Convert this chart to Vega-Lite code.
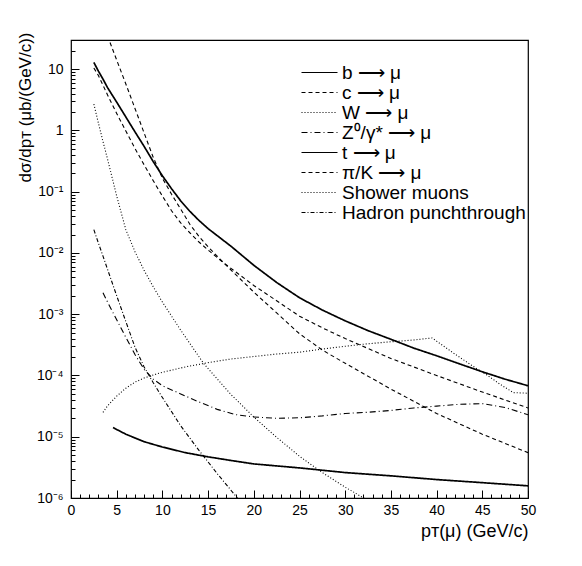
{
  "$schema": "https://vega.github.io/schema/vega-lite/v6.json",
  "autosize": {"type": "none"},
  "padding": {"left": 71, "top": 40, "right": 54, "bottom": 68},
  "width": 457,
  "height": 458,
  "background": "white",
  "config": {
    "font": "Liberation Sans",
    "view": {"stroke": "black", "strokeWidth": 1.2},
    "axis": {"domain": false, "ticks": false, "grid": true, "gridColor": "black", "gridWidth": 1, "gridOpacity": 1, "labelFont": "Liberation Sans", "titleFont": "Liberation Sans", "labelColor": "black", "titleColor": "black", "titleFontWeight": "normal"}
  },
  "data": {"values": [
    {"s": "b ⟶ μ", "x": 2.5, "y": 12.9}, {"s": "b ⟶ μ", "x": 3, "y": 9.3}, {"s": "b ⟶ μ", "x": 3.5, "y": 6.9}, {"s": "b ⟶ μ", "x": 4, "y": 5.0}, {"s": "b ⟶ μ", "x": 5, "y": 2.9}, {"s": "b ⟶ μ", "x": 6, "y": 1.66}, {"s": "b ⟶ μ", "x": 7, "y": 0.95}, {"s": "b ⟶ μ", "x": 8, "y": 0.55}, {"s": "b ⟶ μ", "x": 9, "y": 0.31}, {"s": "b ⟶ μ", "x": 10, "y": 0.182}, {"s": "b ⟶ μ", "x": 11, "y": 0.112}, {"s": "b ⟶ μ", "x": 12, "y": 0.071}, {"s": "b ⟶ μ", "x": 13, "y": 0.048}, {"s": "b ⟶ μ", "x": 14, "y": 0.034}, {"s": "b ⟶ μ", "x": 15, "y": 0.025}, {"s": "b ⟶ μ", "x": 17.5, "y": 0.0129}, {"s": "b ⟶ μ", "x": 20, "y": 0.0063}, {"s": "b ⟶ μ", "x": 22.5, "y": 0.0033}, {"s": "b ⟶ μ", "x": 25, "y": 0.00186}, {"s": "b ⟶ μ", "x": 27.5, "y": 0.00117}, {"s": "b ⟶ μ", "x": 30, "y": 0.00078}, {"s": "b ⟶ μ", "x": 32.5, "y": 0.00054}, {"s": "b ⟶ μ", "x": 35, "y": 0.00039}, {"s": "b ⟶ μ", "x": 37.5, "y": 0.00028}, {"s": "b ⟶ μ", "x": 40, "y": 0.00021}, {"s": "b ⟶ μ", "x": 42.5, "y": 0.000155}, {"s": "b ⟶ μ", "x": 45, "y": 0.000115}, {"s": "b ⟶ μ", "x": 47.5, "y": 0.000087}, {"s": "b ⟶ μ", "x": 50, "y": 0.000068},

    {"s": "c ⟶ μ", "x": 2.5, "y": 10.5}, {"s": "c ⟶ μ", "x": 3, "y": 7.9}, {"s": "c ⟶ μ", "x": 4, "y": 3.8}, {"s": "c ⟶ μ", "x": 5, "y": 1.9}, {"s": "c ⟶ μ", "x": 6, "y": 0.98}, {"s": "c ⟶ μ", "x": 7, "y": 0.51}, {"s": "c ⟶ μ", "x": 8, "y": 0.275}, {"s": "c ⟶ μ", "x": 9, "y": 0.151}, {"s": "c ⟶ μ", "x": 10, "y": 0.085}, {"s": "c ⟶ μ", "x": 11, "y": 0.049}, {"s": "c ⟶ μ", "x": 12, "y": 0.031}, {"s": "c ⟶ μ", "x": 13, "y": 0.0214}, {"s": "c ⟶ μ", "x": 14, "y": 0.0151}, {"s": "c ⟶ μ", "x": 15, "y": 0.0112}, {"s": "c ⟶ μ", "x": 16.7, "y": 0.0069}, {"s": "c ⟶ μ", "x": 20, "y": 0.00295}, {"s": "c ⟶ μ", "x": 22.5, "y": 0.00166}, {"s": "c ⟶ μ", "x": 25, "y": 0.00093}, {"s": "c ⟶ μ", "x": 27.5, "y": 0.0006}, {"s": "c ⟶ μ", "x": 30, "y": 0.0004}, {"s": "c ⟶ μ", "x": 35, "y": 0.00019}, {"s": "c ⟶ μ", "x": 40, "y": 0.0001}, {"s": "c ⟶ μ", "x": 45, "y": 0.0000537}, {"s": "c ⟶ μ", "x": 50, "y": 0.0000295},

    {"s": "W ⟶ μ", "x": 3.5, "y": 0.000025}, {"s": "W ⟶ μ", "x": 4, "y": 0.000032}, {"s": "W ⟶ μ", "x": 5, "y": 0.000046}, {"s": "W ⟶ μ", "x": 6, "y": 0.000062}, {"s": "W ⟶ μ", "x": 7, "y": 0.000078}, {"s": "W ⟶ μ", "x": 8, "y": 0.000091}, {"s": "W ⟶ μ", "x": 9.7, "y": 0.00011}, {"s": "W ⟶ μ", "x": 12.5, "y": 0.000138}, {"s": "W ⟶ μ", "x": 15, "y": 0.000162}, {"s": "W ⟶ μ", "x": 17.5, "y": 0.000186}, {"s": "W ⟶ μ", "x": 20, "y": 0.000204}, {"s": "W ⟶ μ", "x": 22.5, "y": 0.000224}, {"s": "W ⟶ μ", "x": 25, "y": 0.00024}, {"s": "W ⟶ μ", "x": 27.5, "y": 0.00027}, {"s": "W ⟶ μ", "x": 30, "y": 0.0003}, {"s": "W ⟶ μ", "x": 32.5, "y": 0.00033}, {"s": "W ⟶ μ", "x": 35, "y": 0.000355}, {"s": "W ⟶ μ", "x": 37.5, "y": 0.00038}, {"s": "W ⟶ μ", "x": 39.5, "y": 0.00041}, {"s": "W ⟶ μ", "x": 42, "y": 0.000224}, {"s": "W ⟶ μ", "x": 44, "y": 0.000141}, {"s": "W ⟶ μ", "x": 45.5, "y": 0.000102}, {"s": "W ⟶ μ", "x": 47, "y": 0.000071}, {"s": "W ⟶ μ", "x": 48.4, "y": 0.0000525}, {"s": "W ⟶ μ", "x": 50, "y": 0.0000513},

    {"s": "Z⁰/γ* ⟶ μ", "x": 3.5, "y": 0.00224}, {"s": "Z⁰/γ* ⟶ μ", "x": 4, "y": 0.00158}, {"s": "Z⁰/γ* ⟶ μ", "x": 5, "y": 0.00081}, {"s": "Z⁰/γ* ⟶ μ", "x": 6, "y": 0.00042}, {"s": "Z⁰/γ* ⟶ μ", "x": 7, "y": 0.00022}, {"s": "Z⁰/γ* ⟶ μ", "x": 8, "y": 0.000126}, {"s": "Z⁰/γ* ⟶ μ", "x": 9, "y": 0.000087}, {"s": "Z⁰/γ* ⟶ μ", "x": 10, "y": 0.000068}, {"s": "Z⁰/γ* ⟶ μ", "x": 12, "y": 0.00005}, {"s": "Z⁰/γ* ⟶ μ", "x": 14, "y": 0.000037}, {"s": "Z⁰/γ* ⟶ μ", "x": 16, "y": 0.000028}, {"s": "Z⁰/γ* ⟶ μ", "x": 18, "y": 0.000023}, {"s": "Z⁰/γ* ⟶ μ", "x": 20, "y": 0.000021}, {"s": "Z⁰/γ* ⟶ μ", "x": 22.5, "y": 0.00002}, {"s": "Z⁰/γ* ⟶ μ", "x": 25, "y": 0.0000204}, {"s": "Z⁰/γ* ⟶ μ", "x": 27.5, "y": 0.0000219}, {"s": "Z⁰/γ* ⟶ μ", "x": 30, "y": 0.000024}, {"s": "Z⁰/γ* ⟶ μ", "x": 32.5, "y": 0.0000251}, {"s": "Z⁰/γ* ⟶ μ", "x": 35, "y": 0.0000269}, {"s": "Z⁰/γ* ⟶ μ", "x": 37.5, "y": 0.0000295}, {"s": "Z⁰/γ* ⟶ μ", "x": 40, "y": 0.0000316}, {"s": "Z⁰/γ* ⟶ μ", "x": 42.5, "y": 0.0000339}, {"s": "Z⁰/γ* ⟶ μ", "x": 45, "y": 0.0000347}, {"s": "Z⁰/γ* ⟶ μ", "x": 47.5, "y": 0.00003}, {"s": "Z⁰/γ* ⟶ μ", "x": 50, "y": 0.0000229},

    {"s": "t ⟶ μ", "x": 4.6, "y": 0.0000141}, {"s": "t ⟶ μ", "x": 6, "y": 0.000011}, {"s": "t ⟶ μ", "x": 8, "y": 0.0000083}, {"s": "t ⟶ μ", "x": 10, "y": 0.0000068}, {"s": "t ⟶ μ", "x": 12.5, "y": 0.0000055}, {"s": "t ⟶ μ", "x": 15, "y": 0.0000047}, {"s": "t ⟶ μ", "x": 17.5, "y": 0.0000041}, {"s": "t ⟶ μ", "x": 20, "y": 0.0000036}, {"s": "t ⟶ μ", "x": 25, "y": 0.0000031}, {"s": "t ⟶ μ", "x": 30, "y": 0.0000026}, {"s": "t ⟶ μ", "x": 35, "y": 0.0000023}, {"s": "t ⟶ μ", "x": 40, "y": 0.000002}, {"s": "t ⟶ μ", "x": 45, "y": 0.00000178}, {"s": "t ⟶ μ", "x": 50, "y": 0.00000158},

    {"s": "π/K ⟶ μ", "x": 4, "y": 35}, {"s": "π/K ⟶ μ", "x": 5, "y": 14.1}, {"s": "π/K ⟶ μ", "x": 6, "y": 5.75}, {"s": "π/K ⟶ μ", "x": 7, "y": 2.29}, {"s": "π/K ⟶ μ", "x": 8, "y": 0.91}, {"s": "π/K ⟶ μ", "x": 9, "y": 0.363}, {"s": "π/K ⟶ μ", "x": 10, "y": 0.166}, {"s": "π/K ⟶ μ", "x": 11, "y": 0.091}, {"s": "π/K ⟶ μ", "x": 12, "y": 0.052}, {"s": "π/K ⟶ μ", "x": 13, "y": 0.0295}, {"s": "π/K ⟶ μ", "x": 14, "y": 0.0186}, {"s": "π/K ⟶ μ", "x": 15, "y": 0.0126}, {"s": "π/K ⟶ μ", "x": 16.7, "y": 0.0069}, {"s": "π/K ⟶ μ", "x": 20, "y": 0.0023}, {"s": "π/K ⟶ μ", "x": 22.5, "y": 0.00105}, {"s": "π/K ⟶ μ", "x": 25, "y": 0.00048}, {"s": "π/K ⟶ μ", "x": 27.5, "y": 0.00026}, {"s": "π/K ⟶ μ", "x": 30, "y": 0.000158}, {"s": "π/K ⟶ μ", "x": 35, "y": 0.00006}, {"s": "π/K ⟶ μ", "x": 40, "y": 0.000024}, {"s": "π/K ⟶ μ", "x": 45, "y": 0.000011}, {"s": "π/K ⟶ μ", "x": 50, "y": 0.0000055},

    {"s": "Shower muons", "x": 2.5, "y": 2.7}, {"s": "Shower muons", "x": 3, "y": 1.32}, {"s": "Shower muons", "x": 3.5, "y": 0.66}, {"s": "Shower muons", "x": 4, "y": 0.34}, {"s": "Shower muons", "x": 5, "y": 0.085}, {"s": "Shower muons", "x": 6, "y": 0.024}, {"s": "Shower muons", "x": 7, "y": 0.0105}, {"s": "Shower muons", "x": 8, "y": 0.0052}, {"s": "Shower muons", "x": 9, "y": 0.0028}, {"s": "Shower muons", "x": 10, "y": 0.00158}, {"s": "Shower muons", "x": 12, "y": 0.00055}, {"s": "Shower muons", "x": 14.5, "y": 0.000158}, {"s": "Shower muons", "x": 17.5, "y": 0.000049}, {"s": "Shower muons", "x": 20, "y": 0.000021}, {"s": "Shower muons", "x": 22.5, "y": 0.0000098}, {"s": "Shower muons", "x": 25, "y": 0.0000048}, {"s": "Shower muons", "x": 27.5, "y": 0.0000026}, {"s": "Shower muons", "x": 30, "y": 0.0000015}, {"s": "Shower muons", "x": 32.5, "y": 0.00000091},

    {"s": "Hadron punchthrough", "x": 2.5, "y": 0.024}, {"s": "Hadron punchthrough", "x": 3, "y": 0.0145}, {"s": "Hadron punchthrough", "x": 3.5, "y": 0.0089}, {"s": "Hadron punchthrough", "x": 4, "y": 0.0054}, {"s": "Hadron punchthrough", "x": 5, "y": 0.002}, {"s": "Hadron punchthrough", "x": 6, "y": 0.00076}, {"s": "Hadron punchthrough", "x": 7, "y": 0.00029}, {"s": "Hadron punchthrough", "x": 8, "y": 0.000138}, {"s": "Hadron punchthrough", "x": 9, "y": 0.000076}, {"s": "Hadron punchthrough", "x": 10, "y": 0.0000437}, {"s": "Hadron punchthrough", "x": 12, "y": 0.0000151}, {"s": "Hadron punchthrough", "x": 14, "y": 0.000006}, {"s": "Hadron punchthrough", "x": 16, "y": 0.0000025}, {"s": "Hadron punchthrough", "x": 18.2, "y": 0.000001}, {"s": "Hadron punchthrough", "x": 19, "y": 0.00000071}
  ]},
  "encoding": {
    "x": {
      "field": "x", "type": "quantitative",
      "scale": {"domain": [0, 50], "nice": false, "zero": false},
      "axis": {
        "orient": "bottom",
        "title": "pᴛ(μ) (GeV/c)",
        "titleFontSize": 18, "titleAnchor": "end", "titleAlign": "right", "titleBaseline": "middle", "titleX": 457, "titleY": 33,
        "values": [0,1,2,3,4,5,6,7,8,9,10,11,12,13,14,15,16,17,18,19,20,21,22,23,24,25,26,27,28,29,30,31,32,33,34,35,36,37,38,39,40,41,42,43,44,45,46,47,48,49,50],
        "gridDash": {"condition": {"test": "datum.value % 5 == 0", "value": [0, 450, 8, 100]}, "value": [0, 454, 4, 100]},
        "labelExpr": "datum.value % 5 == 0 ? datum.label : ''",
        "labelFontSize": 14, "labelPadding": 5, "labelFlush": false, "labelOverlap": false
      }
    },
    "y": {
      "field": "y", "type": "quantitative",
      "scale": {"type": "log", "domain": [0.000001, 30], "nice": false},
      "axis": {
        "orient": "left",
        "title": "dσ/dpᴛ (μb/(GeV/c))",
        "titleFontSize": 17, "titleAngle": -90, "titleAlign": "right", "titleBaseline": "middle", "titleX": -46, "titleY": -8,
        "values": [0.000001,0.000002,0.000003,0.000004,0.000005,0.000006,0.000007,0.000008,0.000009,0.00001,0.00002,0.00003,0.00004,0.00005,0.00006,0.00007,0.00008,0.00009,0.0001,0.0002,0.0003,0.0004,0.0005,0.0006,0.0007,0.0008,0.0009,0.001,0.002,0.003,0.004,0.005,0.006,0.007,0.008,0.009,0.01,0.02,0.03,0.04,0.05,0.06,0.07,0.08,0.09,0.1,0.2,0.3,0.4,0.5,0.6,0.7,0.8,0.9,1,2,3,4,5,6,7,8,9,10,20,30],
        "gridDash": {"condition": {"test": "abs(log(datum.value)/LN10 - round(log(datum.value)/LN10)) < 0.001", "value": [8, 2000]}, "value": [4, 2000]},
        "labelExpr": "abs(log(datum.value)/LN10 - round(log(datum.value)/LN10)) < 0.001 ? (datum.value >= 1 ? format(datum.value, 'd') : '10' + ['⁻¹','⁻²','⁻³','⁻⁴','⁻⁵','⁻⁶'][-round(log(datum.value)/LN10) - 1]) : ''",
        "labelFontSize": 14, "labelPadding": 8, "labelOverlap": false, "labelFlush": false
      }
    }
  },
  "layer": [
    {
      "transform": [{"filter": "datum.s == 'b ⟶ μ' || datum.s == 't ⟶ μ'"}],
      "mark": {"type": "line", "color": "black", "strokeWidth": 1.7, "clip": true},
      "encoding": {
        "strokeDash": {
          "field": "s", "type": "nominal",
          "scale": {
            "domain": ["b ⟶ μ", "c ⟶ μ", "W ⟶ μ", "Z⁰/γ* ⟶ μ", "t ⟶ μ", "π/K ⟶ μ", "Shower muons", "Hadron punchthrough"],
            "range": [[1, 0], [4, 3], [1, 2], [6, 3, 1, 3], [1, 0], [4, 3], [1, 2], [4, 2, 1, 2]]
          },
          "legend": {
            "title": null, "orient": "none", "legendX": 239, "legendY": 23,
            "symbolType": "M-3,0H3", "symbolSize": 144, "symbolStrokeColor": "black", "symbolStrokeWidth": 1.2,
            "labelFontSize": 19, "labelColor": "black", "labelFont": "Liberation Sans", "labelOffset": 13, "rowPadding": 0, "labelLimit": 300
          }
        }
      }
    },
    {
      "transform": [{"filter": "datum.s != 'b ⟶ μ' && datum.s != 't ⟶ μ'"}],
      "mark": {"type": "line", "color": "black", "strokeWidth": 1.1, "clip": true},
      "encoding": {
        "strokeDash": {"field": "s", "type": "nominal"}
      }
    },
    {
      "data": {"values": [{"label": "|η(μ)|<2.7"}]},
      "mark": {"type": "text", "align": "left", "baseline": "middle", "fontSize": 18, "color": "black", "font": "Liberation Sans"},
      "encoding": {
        "x": {"datum": 32.3, "type": "quantitative"},
        "y": {"datum": 0.0022, "type": "quantitative"},
        "text": {"field": "label"}
      }
    }
  ]
}
